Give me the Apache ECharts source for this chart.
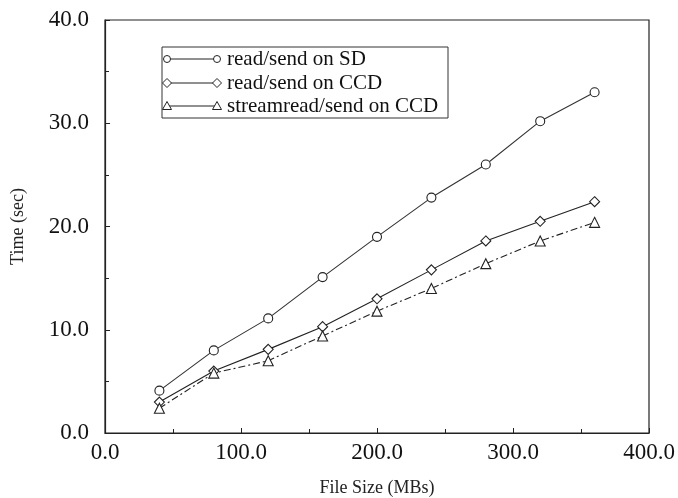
<!DOCTYPE html>
<html>
<head>
<meta charset="utf-8">
<script src="https://cdn.jsdelivr.net/npm/echarts@6/dist/echarts.min.js"></script>
<style>html,body{margin:0;padding:0;background:#fff}#c{width:678px;height:498px}</style>
</head>
<body>
<div id="c"></div>
<script>
const fileSizes = [40, 80, 120, 160, 200, 240, 280, 320, 360];
const readSendSD = [4.1, 8.0, 11.1, 15.1, 19.0, 22.8, 26.0, 30.2, 33.0];
const readSendCCD = [3.0, 6.0, 8.1, 10.3, 13.0, 15.8, 18.6, 20.5, 22.4];
const streamReadCCD = [2.4, 5.8, 7.0, 9.4, 11.8, 14.0, 16.4, 18.6, 20.4];
const seriesNames = ['read/send on SD', 'read/send on CCD', 'streamread/send on CCD'];

const font = 'Liberation Serif';
const ink = '#222';
const chart = echarts.init(document.getElementById('c'));
function pairs(vals) { return fileSizes.map((x, i) => [x, vals[i]]); }
const markStyle = { color: '#fff', borderColor: ink, borderWidth: 1.1 };
const dashDot = [7, 3, 2, 3];

// hand-drawn legend box (matches the reference's two-marker legend keys)
const lgX = 162, lgY = 47, lgW = 286, lgH = 71, rowY = [59, 83, 106];
const keyX0 = 167, keyX1 = 217;
function marker(kind, cx, cy) {
  const st = { fill: '#fff', stroke: ink, lineWidth: 1 };
  if (kind === 0) return { type: 'circle', shape: { cx, cy, r: 3.5 }, style: st, z: 110 };
  if (kind === 1) return { type: 'polygon', shape: { points: [[cx - 4.5, cy], [cx, cy - 4.5], [cx + 4.5, cy], [cx, cy + 4.5]] }, style: st, z: 110 };
  return { type: 'polygon', shape: { points: [[cx - 4.5, cy + 3.5], [cx, cy - 4.5], [cx + 4.5, cy + 3.5]] }, style: st, z: 110 };
}
const legendGraphics = [{ type: 'rect', shape: { x: lgX, y: lgY, width: lgW, height: lgH }, style: { fill: '#fff', stroke: '#333', lineWidth: 1 }, z: 100 }];
seriesNames.forEach((name, i) => {
  const y = rowY[i];
  legendGraphics.push({ type: 'line', shape: { x1: keyX0, y1: y, x2: keyX1, y2: y }, style: { stroke: ink, lineWidth: 1.1 }, z: 105 });
  legendGraphics.push(marker(i, keyX0, y));
  legendGraphics.push(marker(i, keyX1, y));
  legendGraphics.push({ type: 'text', x: 227, y: y, style: { text: name, fontFamily: font, fontSize: 21, fill: '#111', verticalAlign: 'middle', align: 'left' }, z: 110 });
});

chart.setOption({
  animation: false,
  backgroundColor: '#fff',
  grid: { left: 105, right: 29, top: 20, bottom: 65, show: true, borderColor: ink, borderWidth: 1.2, containLabel: false, outerBoundsMode: 'none' },
  graphic: legendGraphics,
  xAxis: {
    type: 'value', min: 0, max: 400, interval: 100,
    name: 'File Size (MBs)', nameLocation: 'middle', nameGap: 46,
    nameTextStyle: { fontFamily: font, fontSize: 18, color: '#222' },
    axisLine: { lineStyle: { color: ink, width: 1.2 } },
    axisTick: { inside: true, length: 5, lineStyle: { color: ink } },
    minorTick: { show: true, splitNumber: 2, length: 4, lineStyle: { color: ink } },
    splitLine: { show: false },
    axisLabel: { fontFamily: font, fontSize: 23, color: '#111', margin: 8, formatter: v => v.toFixed(1) }
  },
  yAxis: {
    type: 'value', min: 0, max: 40, interval: 10,
    name: 'Time (sec)', nameLocation: 'middle', nameGap: 78, nameRotate: 90,
    nameTextStyle: { fontFamily: font, fontSize: 18, color: '#222' },
    axisLine: { show: true, lineStyle: { color: ink, width: 1.2 } },
    axisTick: { show: true, inside: true, length: 5, lineStyle: { color: ink } },
    minorTick: { show: true, splitNumber: 2, length: 4, lineStyle: { color: ink } },
    splitLine: { show: false },
    axisLabel: { fontFamily: font, fontSize: 23, color: '#111', margin: 16, formatter: v => v.toFixed(1) }
  },
  series: [
    { name: seriesNames[0], type: 'line', data: pairs(readSendSD), symbol: 'circle', symbolSize: 9,
      lineStyle: { color: '#333', width: 1.1 }, itemStyle: markStyle },
    { name: seriesNames[1], type: 'line', data: pairs(readSendCCD), symbol: 'diamond', symbolSize: 10,
      lineStyle: { color: ink, width: 1.1 }, itemStyle: markStyle },
    { name: seriesNames[2], type: 'line', data: pairs(streamReadCCD), symbol: 'triangle', symbolSize: 10,
      lineStyle: { color: ink, width: 1.1, type: dashDot }, itemStyle: markStyle }
  ]
});
</script>
</body>
</html>
